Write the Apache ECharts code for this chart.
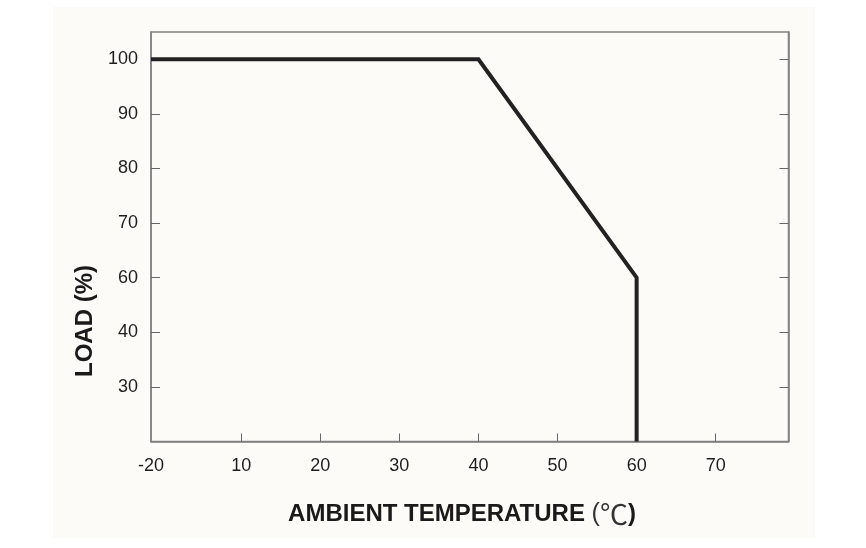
<!DOCTYPE html>
<html>
<head>
<meta charset="utf-8">
<script src="https://cdn.jsdelivr.net/npm/echarts@6/dist/echarts.min.js"></script>
<style>
  html, body { margin: 0; padding: 0; background: #ffffff; }
  #chart { width: 866px; height: 548px; }
</style>
</head>
<body>
<div id="chart"></div>
<script>
// ---- data ----
const temps = [-20, 40, 60, 60];          // ambient temperature (°C) of the derating curve points
const loads = [100, 100, 60, 30];         // load (%) at those points (30 = bottom of the plot)
const xTickValues = [10, 20, 30, 40, 50, 60, 70];
const xStartLabel = '-20';                // printed at the left edge of the (broken) axis
const yTickValues = [40, 50, 60, 70, 80, 90, 100];
const yTickLabels = ['30', '40', '60', '70', '80', '90', '100'];
const xTitle = 'AMBIENT TEMPERATURE ';
const xTitleUnit = '℃';
const yTitle = 'LOAD (%)';

const xMin = -1.4, xMax = 79.2;   // axis extent; the left edge carries the "-20" label
const yMin = 30, yMax = 105;

const curve = temps.map((t, i) => [t === -20 ? xMin : t, loads[i]]);

const font = '"Liberation Sans", Arial, sans-serif';
const axisGray = '#808080';
const tickGray = '#666666';

const chart = echarts.init(document.getElementById('chart'), null, { renderer: 'canvas' });
chart.setOption({
  animation: false,
  backgroundColor: '#ffffff',
  graphic: [
    { type: 'rect', z: -10, shape: { x: 53, y: 7, width: 762, height: 531 },
      style: { fill: '#fcfbf7' }, silent: true },
    { type: 'text', x: 85, y: 321, rotation: Math.PI / 2,
      style: { text: yTitle, font: 'bold 24px ' + font, fill: '#1a1a1a',
               textAlign: 'center', textVerticalAlign: 'middle' } },
    { type: 'text', x: 462, y: 514,
      style: {
        text: '{b|' + xTitle + '}{p|(}{u|' + xTitleUnit + '}{b|)}',
        textAlign: 'center', textVerticalAlign: 'middle',
        rich: {
          b: { fontFamily: font, fontWeight: 'bold', fontSize: 24, fill: '#1a1a1a', color: '#1a1a1a' },
          p: { fontFamily: font, fontWeight: 'normal', fontSize: 25, fill: '#333', color: '#333' },
          u: { fontFamily: '"Noto Sans CJK SC", sans-serif', fontWeight: 'normal', fontSize: 28, fill: '#333', color: '#333' }
        }
      } }
  ],
  grid: {
    left: 151, top: 32, width: 637.5, height: 409.5,
    show: true, borderColor: axisGray, borderWidth: 1.5, backgroundColor: 'transparent'
  },
  xAxis: {
    type: 'value', min: xMin, max: xMax,
    splitLine: { show: false },
    axisLine: { show: true, onZero: false, lineStyle: { color: axisGray, width: 1.5 } },
    axisTick: { show: true, inside: true, length: 8, customValues: xTickValues,
                lineStyle: { color: tickGray, width: 1 } },
    axisLabel: {
      customValues: [xMin].concat(xTickValues), margin: 16,
      fontFamily: font, fontSize: 18, color: '#1e1e1e',
      formatter: v => (v === xMin ? xStartLabel : String(v))
    }
  },
  yAxis: [
    {
      type: 'value', min: yMin, max: yMax,
      splitLine: { show: false },
      axisLine: { show: true, onZero: false, lineStyle: { color: axisGray, width: 1.5 } },
      axisTick: { show: true, inside: true, length: 9, customValues: yTickValues,
                  lineStyle: { color: tickGray, width: 1 } },
      axisLabel: {
        customValues: yTickValues, margin: 13,
        fontFamily: font, fontSize: 18, color: '#1e1e1e',
        formatter: v => yTickLabels[yTickValues.indexOf(v)] || ''
      }
    },
    {
      type: 'value', min: yMin, max: yMax, position: 'right',
      splitLine: { show: false },
      axisLine: { show: true, onZero: false, lineStyle: { color: axisGray, width: 1.5 } },
      axisTick: { show: true, inside: true, length: 9, customValues: yTickValues,
                  lineStyle: { color: tickGray, width: 1 } },
      axisLabel: { show: false }
    }
  ],
  series: [{
    type: 'line', data: curve, symbol: 'none', clip: false,
    lineStyle: { color: '#222222', width: 4, join: 'miter', cap: 'butt' }
  }]
});
</script>
</body>
</html>
